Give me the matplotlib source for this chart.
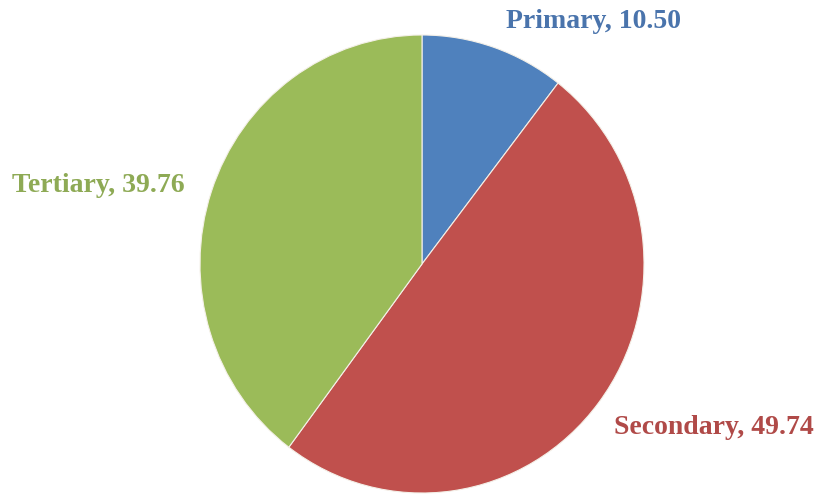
import matplotlib.pyplot as plt

# sector shares
sectors = ["Primary", "Secondary", "Tertiary"]
shares = [10.50, 49.74, 39.76]
colors = ["#4F81BD", "#C0504D", "#9BBB59"]
text_colors = ["#4A74AC", "#B04A48", "#8EAA55"]

# label centres in pixels of the 817x496 image
label_px = [(594, 22), (714, 428), (98, 186)]

W, H = 817, 496
fig = plt.figure(figsize=(W / 100, H / 100), dpi=100)
cx, cy, rx, ry = 422, 264, 222, 229
ax = fig.add_axes([(cx - rx) / W, 1 - (cy + ry) / H, 2 * rx / W, 2 * ry / H])

wedges, _ = ax.pie(shares, colors=colors, startangle=90, counterclock=False,
                   wedgeprops=dict(edgecolor="#f4f0e8", linewidth=0.8))
ax.set_xlim(-1, 1)
ax.set_ylim(-1, 1)
ax.set_aspect("auto")
ax.axis("off")

for name, val, col, (px, py) in zip(sectors, shares, text_colors, label_px):
    fig.text(px / W, 1 - py / H, f"{name}, {val:.2f}", color=col,
             ha="center", va="center", fontsize=20, fontweight="bold",
             family="Liberation Serif")

fig.savefig("out.png", dpi=100)
